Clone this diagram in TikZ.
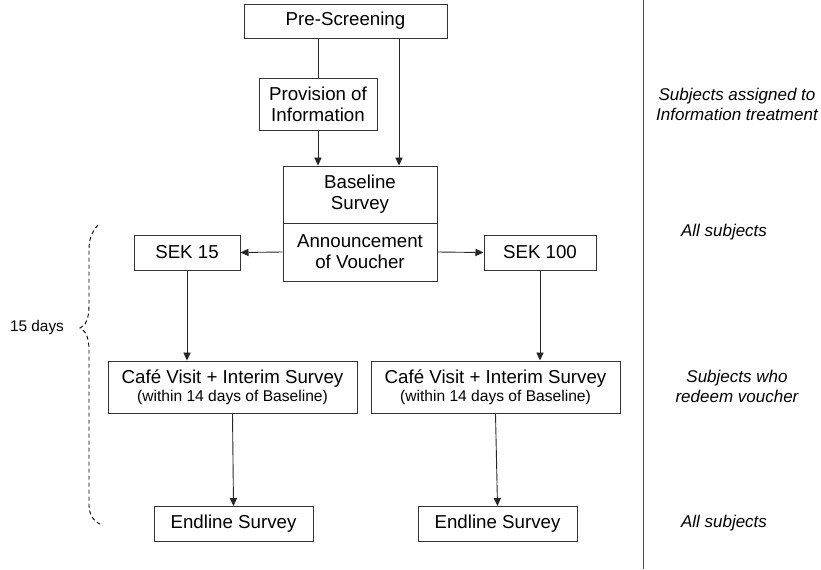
\documentclass[tikz,border=0pt]{standalone}
\usepackage{fontspec}
\setmainfont{Liberation Sans}
\usetikzlibrary{arrows.meta}

\begin{document}
\begin{tikzpicture}[x=0.5pt, y=-0.5pt,
    box/.style={draw=black!80, line width=0.5pt, inner sep=0pt, align=center,
        font=\fontsize{9.35}{10.5}\selectfont},
    arr/.style={-{Triangle[length=4pt, width=3.6pt]}, line width=0.45pt, black!85},
    side/.style={align=center, font=\fontsize{8.5}{10}\selectfont\itshape}]

    \useasboundingbox (0,0) rectangle (821,569);

    % Kaestchen
    \node[box, minimum width=101.5pt, minimum height=17pt] (pre) at (345.5,21) {Pre-Screening};
    \node[box, minimum width=59pt, minimum height=26pt] (info) at (318,104) {Provision of\\Information};
    \node[box, minimum width=77pt, minimum height=28.5pt] (base) at (360,194.5) {Baseline\\Survey};
    \node[box, minimum width=77pt, minimum height=29pt] (voucher) at (360,252) {Announcement\\of Voucher};
    \node[box, minimum width=53pt, minimum height=17.5pt] (sek15) at (187,252.5) {SEK 15};
    \node[box, minimum width=56pt, minimum height=17.5pt] (sek100) at (540,252.5) {SEK 100};
    \foreach \name/\x in {cafeL/232.5, cafeR/495.5} {
        \node[box, minimum width=124.5pt, minimum height=26pt] (\name) at (\x,387)
            {Café Visit + Interim Survey\\[-1.5pt]{\fontsize{7.8}{9}\selectfont (within 14 days of Baseline)}};
    }
    \foreach \name/\x in {endL/233.5, endR/497.5} {
        \node[box, minimum width=79.5pt, minimum height=17.5pt] (\name) at (\x,524) {Endline Survey};
    }

    % Pfeile
    \draw[line width=0.45pt, black!85] (info.north |- pre.south) -- (info.north);
    \draw[arr] (info.south) -- (info.south |- base.north);
    \draw[arr] ([xshift=26.75pt]pre.south) coordinate (direct) -- (direct |- base.north);
    \draw[arr] (voucher.west) -- (sek15.east);
    \draw[arr] (voucher.east) -- (sek100.west);
    \draw[arr] (sek15.south) -- (sek15.south |- cafeL.north);
    \draw[arr] (sek100.south) -- (sek100.south |- cafeR.north);
    \draw[arr] (cafeL.south) -- (endL.north);
    \draw[arr] (cafeR.south) -- (endR.north);

    % Klammer 15 Tage
    \draw[dashed, dash pattern=on 2pt off 1.5pt, line width=0.45pt]
        (98,225) .. controls (91,233) and (89,240) .. (89,250) -- (89,305)
        .. controls (89,318) and (86,326) .. (80,328)
        .. controls (86,331) and (89,338) .. (89,350) -- (89,505)
        .. controls (89,515) and (94,522) .. (102,525);
    \node[font=\fontsize{7.7}{9}\selectfont] (days) at (37,328) {15 days};

    % Trennlinie und Gruppen
    \draw[line width=0.5pt, black!70] (643,0) -- (643,569);
    \node[side] (lblInfo) at (737,104) {Subjects assigned to\\Information treatment};
    \node[side] (lblAll) at (724,232) {All subjects};
    \node[side] (lblRedeem) at (737,386) {Subjects who\\redeem voucher};
    \node[side] (lblAllEnd) at (724,523) {All subjects};

\end{tikzpicture}
\end{document}
